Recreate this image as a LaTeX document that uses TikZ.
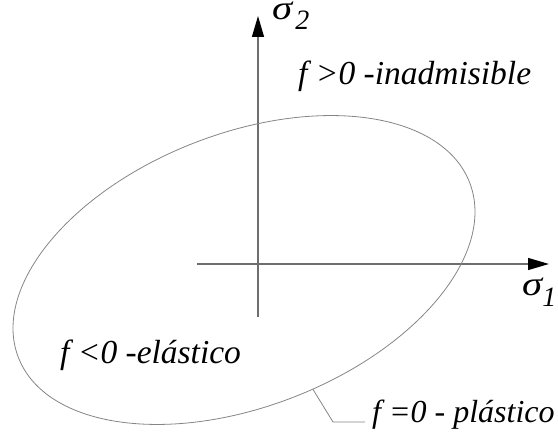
\documentclass[tikz,border=0pt]{standalone}
\usepackage{fontspec}
\setmainfont{Liberation Serif}
\usepackage{xcolor}
\usepackage{tikz}
\usetikzlibrary{arrows.meta,calc}
\definecolor{axisgray}{HTML}{6E6E6E}
\definecolor{curvegray}{HTML}{858585}

\begin{document}
\begin{tikzpicture}[x=1pt,y=1pt,
  lbl/.style={inner sep=0pt,anchor=base west,font=\fontsize{33.5}{36}\selectfont\itshape},
  sig/.style={lbl,font=\fontsize{34}{36}\selectfont\itshape,text height=14pt,text depth=12pt},
  axis/.style={axisgray,line width=1.2pt,-{Triangle[black,length=21pt,width=12pt]}},
  curve/.style={curvegray,line width=0.8pt}]
  \useasboundingbox (0,0) rectangle (558,440);
  % ejes
  \coordinate (o2) at (258,123);
  \coordinate (s2) at (258,424);
  \coordinate (o1) at (197,176);
  \coordinate (s1) at (549,176);
  \draw[axis] (o2) -- (s2);
  \draw[axis] (o1) -- (s1);
  \node[sig] (sigtwo) at (272,420) {\scalebox{1.2}[1]{σ}\hspace{3pt}\raisebox{-10pt}{\fontsize{28}{28}\selectfont 2}};
  \node[sig] (sigone) at (522,144) {\scalebox{1.2}[1]{σ}\raisebox{-11pt}{\fontsize{28}{28}\selectfont 1}};
  % superficie de fluencia
  \begin{scope}[shift={(244,170)},rotate=21.2]
    \draw[curve] (0,0) ellipse[x radius=242,y radius=136.5];
    \coordinate (fzero) at (-85:242 and 136.5);
  \end{scope}
  \node[lbl] (inadm) at (298,355) {f >0 -inadmisible};
  \node[lbl] (elast) at (60,76) {f <0 -elástico};
  \node[lbl,font=\fontsize{32}{36}\selectfont\itshape] (plast) at (372,17) {f =0 - plástico};
  \draw[curve] (fzero) -- ($(plast.base west)+(-39,1)$) -- ($(plast.base west)+(-7,1)$);
\end{tikzpicture}
\end{document}
